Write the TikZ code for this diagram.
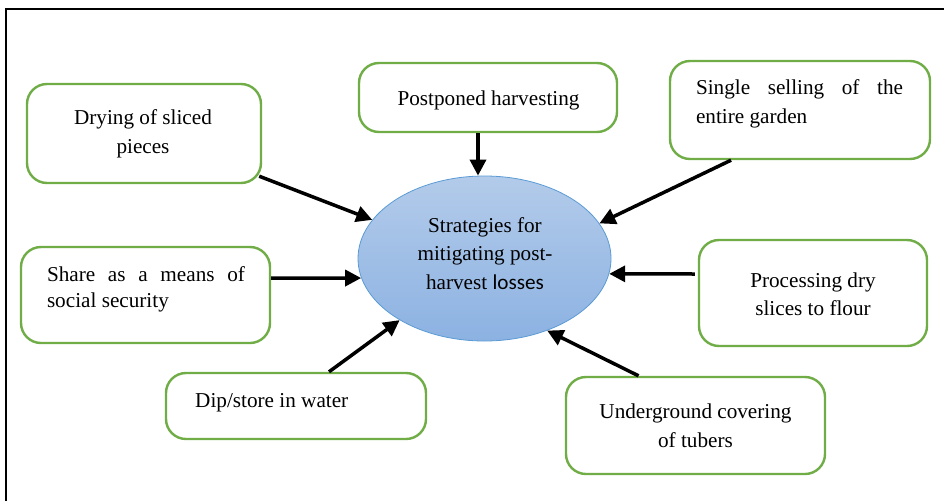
\documentclass[tikz,border=0pt]{standalone}
\usepackage{fontspec}
\setmainfont{Liberation Serif}
\newfontfamily\carl{Carlito}
\usetikzlibrary{arrows.meta,shapes.geometric}
\hyphenpenalty=10000
\exhyphenpenalty=10000
\definecolor{boxgreen}{HTML}{70AD47}
\definecolor{ellborder}{HTML}{5B9BD5}
\definecolor{elltop}{HTML}{B3CBEA}
\definecolor{ellbot}{HTML}{8CB2E2}
\tikzset{
  box/.style={draw=boxgreen, line width=2.4pt, rounded corners=20pt, fill=white, inner sep=0pt},
  txt/.style={inner sep=0pt, font=\fontsize{21.2}{28.5}\selectfont},
  arr/.style={line width=3.5pt, -{Triangle[length=16pt,width=16pt]}},
  frameline/.style={line width=2pt, black},
}
\begin{document}
\begin{tikzpicture}[x=1pt,y=-1pt]
\useasboundingbox (0,0) rectangle (944,501);
% outer frame
\coordinate (ftl) at (6,9);
\coordinate (fbl) at (6,501);
\coordinate (ftr) at (944,9);
\draw[frameline] (fbl) -- (ftl) -- (ftr);

% central ellipse
\node[ellipse, draw=ellborder, line width=0.8pt, top color=elltop, bottom color=ellbot,
      minimum width=253pt, minimum height=165pt, inner sep=0pt] (ctr) at (484.5,258.5) {};
\node[txt, align=center] (ctrt) at (485,253.5) {Strategies for\\mitigating post-\\harvest {\carl losses}};

% boxes
\node[box, minimum width=234pt, minimum height=99pt] (dry) at (144,133.5) {};
\node[txt, align=center] (dryt) at (143,134) {Drying of sliced\\pieces};

\node[box, minimum width=258pt, minimum height=69pt] (post) at (488,97.5) {};
\node[txt] (postt) at (488.5,100.5) {Postponed harvesting};

\node[box, minimum width=260pt, minimum height=98pt] (single) at (800,110) {};
\node[txt, text width=207pt, align=justify] (singlet) at (799.5,104) {Single selling of the entire garden};

\node[box, minimum width=249pt, minimum height=96pt] (share) at (145.5,295) {};
\node[txt, text width=198pt, align=justify, font=\fontsize{21.2}{26}\selectfont] (sharet) at (146,289.5) {Share as a means of social security};

\node[box, minimum width=228pt, minimum height=106pt] (proc) at (813,293) {};
\node[txt, align=center] (proct) at (813,294) {Processing dry\\slices to flour};

\node[box, minimum width=260pt, minimum height=66pt] (dip) at (296,406) {};
\node[txt, anchor=west] (dipt) at (195,403) {Dip/store in water};

\node[box, minimum width=259pt, minimum height=97pt] (under) at (695.5,425.5) {};
\node[txt, align=center] (undert) at (695.5,425.5) {Underground covering\\of tubers};

% arrows
\draw[arr] ([xshift=-3pt,yshift=8pt]dry.south east) -- (ctr.161.5);
\draw[arr] ([xshift=-10pt]post.south) -- ([xshift=-6.5pt]ctr.north);
\draw[arr] ([xshift=-69pt]single.south) -- (ctr.17);
\draw[arr] ([yshift=17pt]share.east) -- (ctr.189.5);
\draw[arr] ([xshift=-3pt,yshift=19pt]proc.west) -- (ctr.-7.5);
\draw[arr] ([xshift=33pt]dip.north) -- (ctr.216);
\draw[arr] ([xshift=-57pt]under.north) -- (ctr.311);
\end{tikzpicture}
\end{document}
